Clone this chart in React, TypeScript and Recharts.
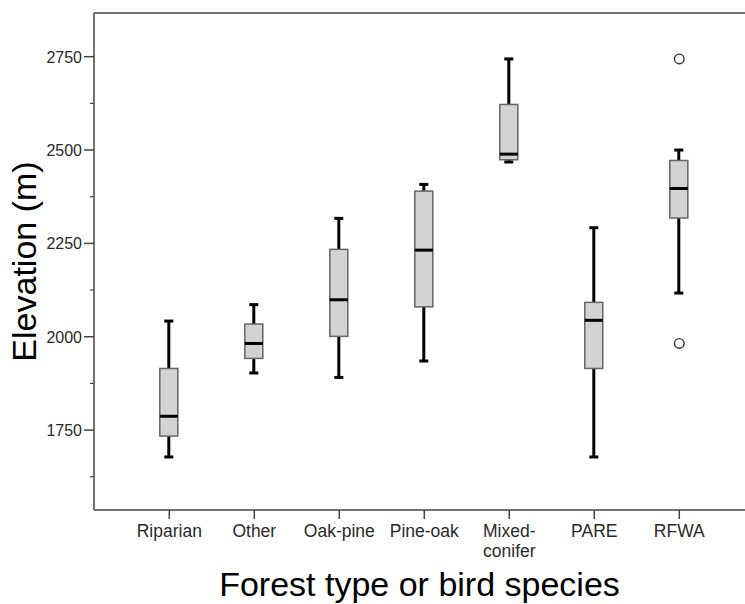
import React from 'react';
import { ComposedChart, Bar, Scatter, XAxis, YAxis, ReferenceLine } from 'recharts';

const categories = ['Riparian', 'Other', 'Oak-pine', 'Pine-oak', 'Mixed-\nconifer', 'PARE', 'RFWA'];
const mins = [1678, 1903, 1891, 1935, 2468, 1678, 2117];
const q1s = [1734, 1942, 2001, 2080, 2474, 1915, 2318];
const medians = [1787, 1982, 2099, 2232, 2489, 2044, 2397];
const q3s = [1915, 2034, 2234, 2390, 2622, 2092, 2472];
const maxs = [2042, 2086, 2317, 2408, 2744, 2292, 2500];
const outlierCategory = [6, 6];
const outlierValues = [2744, 1982];
const yTicks = [1625, 1750, 1875, 2000, 2125, 2250, 2375, 2500, 2625, 2750];
const yDomain = [1536, 2867];
const xDomain = [-0.886, 6.773];

const boxData = categories.map((c, i) => ({
  x: i,
  name: c,
  min: mins[i],
  q1: q1s[i],
  median: medians[i],
  q3: q3s[i],
  max: maxs[i],
}));

const outlierData = outlierValues.map((v, i) => ({ x: outlierCategory[i], y: v }));

const FONT = '"Liberation Sans", Arial, sans-serif';
const AXIS = '#444';

const BoxShape = (props: any) => {
  const { x, y, width, height, payload } = props;
  if (payload == null) return null;
  const cx = x + width / 2;
  const span = payload.max - payload.min;
  const yOf = (v: number) => y + ((payload.max - v) / span) * height;
  const bw = 18;
  const cap = 9;
  return (
    <g>
      <line x1={cx} x2={cx} y1={yOf(payload.max)} y2={yOf(payload.q3)} stroke="#000" strokeWidth={3} />
      <line x1={cx} x2={cx} y1={yOf(payload.q1)} y2={yOf(payload.min)} stroke="#000" strokeWidth={3} />
      <line x1={cx - cap / 2} x2={cx + cap / 2} y1={yOf(payload.max)} y2={yOf(payload.max)} stroke="#000" strokeWidth={3} />
      <line x1={cx - cap / 2} x2={cx + cap / 2} y1={yOf(payload.min)} y2={yOf(payload.min)} stroke="#000" strokeWidth={3} />
      <rect
        x={cx - bw / 2}
        y={yOf(payload.q3)}
        width={bw}
        height={yOf(payload.q1) - yOf(payload.q3)}
        fill="#d3d3d3"
        stroke="#666"
        strokeWidth={1.5}
      />
      <line x1={cx - bw / 2} x2={cx + bw / 2} y1={yOf(payload.median)} y2={yOf(payload.median)} stroke="#000" strokeWidth={3} />
    </g>
  );
};

const OutlierShape = (props: any) => {
  const { cx, cy } = props;
  if (cx == null || cy == null) return null;
  return <circle cx={cx} cy={cy} r={4.8} fill="#fff" stroke="#333" strokeWidth={1.4} />;
};

const XTick = (props: any) => {
  const { x, y, payload } = props;
  const label = categories[payload.value];
  if (label == null) return null;
  const lines = label.split('\n');
  return (
    <g>
      <line x1={x} x2={x} y1={y} y2={y + 9} stroke={AXIS} strokeWidth={1.5} />
      <text x={x} y={y + 27} textAnchor="middle" fontFamily={FONT} fontSize={17.5} fill="#2a2a2a">
        {lines.map((l: string, i: number) => (
          <tspan key={i} x={x} dy={i === 0 ? 0 : 20}>
            {l}
          </tspan>
        ))}
      </text>
    </g>
  );
};

const YTick = (props: any) => {
  const { x, y, payload } = props;
  const v = payload.value;
  const major = v % 250 === 0;
  if (!major) {
    return <line x1={x - 4} x2={x} y1={y} y2={y} stroke={AXIS} strokeWidth={1.2} />;
  }
  return (
    <g>
      <line x1={x - 10} x2={x} y1={y} y2={y} stroke={AXIS} strokeWidth={1.5} />
      <text x={x - 12} y={y + 6} textAnchor="end" fontFamily={FONT} fontSize={16} fill="#2a2a2a">
        {v}
      </text>
    </g>
  );
};

const XTitle = (props: any) => {
  const vb = props.viewBox || {};
  return (
    <text x={vb.x + vb.width / 2} y={596} textAnchor="middle" fontFamily={FONT} fontSize={34} fill="#000">
      Forest type or bird species
    </text>
  );
};

const YTitle = (props: any) => {
  const vb = props.viewBox || {};
  const cy = vb.y + vb.height / 2;
  return (
    <text
      x={36}
      y={cy}
      transform={`rotate(-90, 36, ${cy})`}
      textAnchor="middle"
      fontFamily={FONT}
      fontSize={34}
      fill="#000"
    >
      Elevation (m)
    </text>
  );
};

function XTitleWrapper(props: any) {
  return <XTitle {...props} />;
}

function YTitleWrapper(props: any) {
  return <YTitle {...props} />;
}

export default function App() {
  return (
    <div style={{ position: 'absolute', left: 0, top: 0, width: 745, height: 604, background: '#fff' }}>
      <ComposedChart width={745} height={604} data={boxData} margin={{ top: 13, right: 0, bottom: 0, left: 0 }}>
        <XAxis
          dataKey="x"
          type="number"
          domain={xDomain}
          ticks={[0, 1, 2, 3, 4, 5, 6]}
          interval={0}
          allowDataOverflow
          height={94}
          axisLine={{ stroke: AXIS, strokeWidth: 1.5 }}
          tickLine={false}
          tickSize={0}
          tickMargin={0}
          tick={<XTick />}
          label={<XTitleWrapper />}
        />
        <YAxis
          dataKey="y"
          type="number"
          domain={yDomain}
          ticks={yTicks}
          interval={0}
          allowDataOverflow
          width={94}
          axisLine={{ stroke: AXIS, strokeWidth: 1.5 }}
          tickLine={false}
          tickSize={0}
          tickMargin={0}
          tick={<YTick />}
          label={<YTitleWrapper />}
        />
        <ReferenceLine y={yDomain[1]} stroke={AXIS} strokeWidth={1.5} />
        <Bar
          dataKey={(d: any) => [d.min, d.max]}
          barSize={18}
          shape={<BoxShape />}
          isAnimationActive={false}
        />
        <Scatter data={outlierData} dataKey="y" shape={<OutlierShape />} isAnimationActive={false} />
      </ComposedChart>
    </div>
  );
}
